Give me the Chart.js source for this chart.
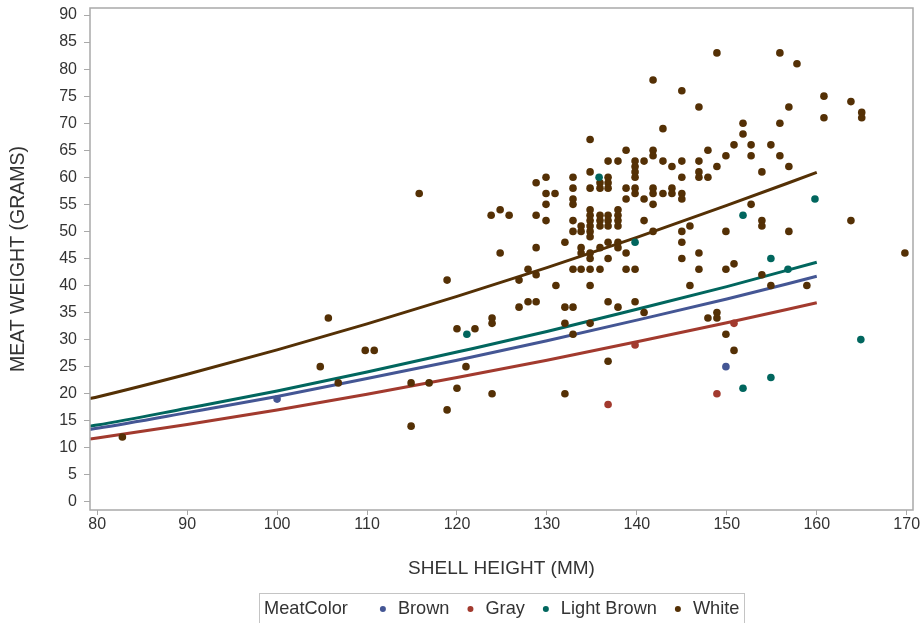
<!DOCTYPE html>
<html>
<head>
<meta charset="utf-8">
<title>Meat weight by shell height</title>
<script src="https://cdn.jsdelivr.net/npm/chart.js@4"></script>
<style>
  html, body { margin: 0; padding: 0; background: #ffffff; }
  #wrap { width: 924px; height: 623px; position: relative; }
</style>
</head>
<body>
<div id="wrap"><canvas id="chart" width="924" height="623"></canvas></div>
<script>
// ---- observations: shell height (mm) and meat weight (g) by meat colour ----
const brownHeight = [100.0, 149.9];
const brownWeight = [19, 25];

const grayHeight = [136.8, 139.8, 148.9, 150.8];
const grayWeight = [18, 29, 20, 33];

const lightBrownHeight = [121.1, 135.8, 139.8, 151.8, 154.9, 156.8, 159.8, 151.8, 154.9, 164.9];
const lightBrownWeight = [31, 60, 48, 53, 45, 43, 56, 21, 23, 30];

const whiteHeight = [
  82.8, 104.8, 105.7, 106.8, 109.8, 110.8, 114.9, 114.9, 115.8, 116.9, 118.9, 118.9, 120.0, 120.0, 121.0, 122.0,
  123.8, 123.9, 123.9, 123.9, 124.8, 124.8, 125.8, 126.9, 126.9, 127.9, 127.9,
  128.8, 128.8, 128.8, 128.8, 128.8, 129.9, 129.9, 129.9, 129.9, 130.9, 131.0, 132.0, 132.0, 132.0, 132.0,
  132.9, 132.9, 132.9, 132.9, 132.9, 132.9, 132.9, 132.9, 132.9,
  133.8, 133.8, 133.8, 133.8, 133.8,
  134.8, 134.8, 134.8, 134.8, 134.8, 134.8, 134.8, 134.8, 134.8, 134.8, 134.8, 134.8, 134.8, 134.8,
  135.9, 135.9, 135.9, 135.9, 135.9, 135.9, 135.9,
  136.8, 136.8, 136.8, 136.8, 136.8, 136.8, 136.8, 136.8, 136.8, 136.8, 136.8,
  137.9, 137.9, 137.9, 137.9, 137.9, 137.9, 137.9, 137.9,
  138.8, 138.8, 138.8, 138.8, 138.8,
  139.8, 139.8, 139.8, 139.8, 139.8, 139.8, 139.8, 139.8,
  140.8, 140.8, 140.8, 140.8,
  141.8, 141.8, 141.8, 141.8, 141.8, 141.8, 141.8,
  142.9, 142.9, 142.9,
  143.9, 143.9, 143.9,
  145.0, 145.0, 145.0, 145.0, 145.0, 145.0, 145.0, 145.0,
  145.9, 145.9,
  146.9, 146.9, 146.9, 146.9, 146.9, 146.9,
  147.9, 147.9, 147.9,
  148.9, 148.9, 148.9, 148.9,
  149.9, 149.9, 149.9, 149.9,
  150.8, 150.8, 150.8,
  151.8, 151.8,
  152.7, 152.7, 152.7,
  153.9, 153.9, 153.9, 153.9,
  154.9, 154.9,
  155.9, 155.9, 155.9,
  156.9, 156.9, 156.9,
  157.8, 158.9, 160.8, 160.8, 163.8, 163.8, 165.0, 165.0, 169.8
];
const whiteWeight = [
  12, 25, 34, 22, 28, 28, 14, 22, 57, 22, 41, 17, 21, 32, 25, 32,
  53, 34, 33, 20, 54, 46, 53, 41, 36, 43, 37,
  59, 53, 47, 42, 37, 60, 57, 55, 52, 57, 40, 48, 36, 33, 20,
  60, 58, 56, 55, 52, 50, 43, 36, 31,
  51, 50, 47, 46, 43,
  67, 61, 58, 54, 53, 52, 51, 50, 49, 46, 45, 43, 40, 33,
  59, 58, 53, 52, 51, 47, 43,
  63, 60, 59, 58, 53, 52, 51, 48, 45, 37, 26,
  63, 54, 53, 52, 51, 48, 47, 36,
  65, 58, 56, 46, 43,
  63, 62, 61, 60, 58, 57, 43, 37,
  63, 56, 52, 35,
  78, 65, 64, 58, 57, 55, 50,
  69, 63, 57,
  62, 58, 57,
  76, 63, 60, 57, 56, 50, 48, 45,
  51, 40,
  73, 63, 61, 60, 46, 43,
  65, 60, 34,
  83, 62, 35, 34,
  64, 50, 43, 31,
  66, 44, 28,
  70, 68,
  66, 64, 55,
  61, 52, 51, 42,
  66, 40,
  83, 70, 64,
  73, 62, 50,
  81, 40, 75, 71, 74, 52, 72, 71, 46
];

// ---- fitted curves, read at these shell heights ----
const fitHeight = [79.2, 80, 90, 100, 110, 120, 130, 140, 150, 160];
const fitBrown = [13.4, 13.6, 16.5, 19.5, 22.8, 26.2, 29.8, 33.6, 37.5, 41.7];
const fitGray = [11.6, 11.8, 14.3, 17.0, 19.9, 23.0, 26.2, 29.6, 33.1, 36.8];
const fitLightBrown = [14.0, 14.2, 17.3, 20.5, 24.0, 27.7, 31.5, 35.6, 39.8, 44.3];
const fitWhite = [19.1, 19.4, 23.6, 28.1, 32.9, 38.0, 43.3, 48.9, 54.8, 60.9];

// ---- axes and legend text ----
const xTicks = [80, 90, 100, 110, 120, 130, 140, 150, 160, 170];
const yTicks = [0, 5, 10, 15, 20, 25, 30, 35, 40, 45, 50, 55, 60, 65, 70, 75, 80, 85, 90];
const groupNames = ['Brown', 'Gray', 'Light Brown', 'White'];
const groupColors = ['#445694', '#A23A2E', '#01665E', '#543005'];
const legendTitle = 'MeatColor';
const xTitle = 'SHELL HEIGHT (MM)';
const yTitle = 'MEAT WEIGHT (GRAMS)';

const FONT = '"Liberation Sans", Arial, Helvetica, sans-serif';
const TEXT = '#333333';
const FRAME = '#a9a9a9';

const pairs = (xs, ys) => xs.map((x, i) => ({ x: x, y: ys[i] }));
const groupPoints = [
  pairs(brownHeight, brownWeight),
  pairs(grayHeight, grayWeight),
  pairs(lightBrownHeight, lightBrownWeight),
  pairs(whiteHeight, whiteWeight)
];
const groupFits = [fitBrown, fitGray, fitLightBrown, fitWhite];

const datasets = [];
groupNames.forEach((name, i) => {
  datasets.push({
    label: name,
    data: groupPoints[i],
    showLine: false,
    pointRadius: 3.8,
    pointHoverRadius: 3.8,
    pointBorderWidth: 0,
    pointBackgroundColor: groupColors[i],
    backgroundColor: groupColors[i],
    borderColor: groupColors[i]
  });
});
groupNames.forEach((name, i) => {
  datasets.push({
    label: name + ' fit',
    data: pairs(fitHeight, groupFits[i]),
    showLine: true,
    pointRadius: 0,
    borderWidth: 3,
    borderColor: groupColors[i],
    backgroundColor: groupColors[i],
    cubicInterpolationMode: 'monotone',
    fill: false
  });
});

// frame around the plotting area
const framePlugin = {
  id: 'frame',
  afterDatasetsDraw(chart) {
    const a = chart.chartArea, ctx = chart.ctx;
    ctx.save();
    ctx.strokeStyle = FRAME;
    ctx.lineWidth = 1.5;
    ctx.strokeRect(a.left, a.top, a.right - a.left, a.bottom - a.top);
    ctx.restore();
  }
};

// boxed, single-row legend under the axis title
const legendPlugin = {
  id: 'rowLegend',
  afterDraw(chart) {
    const ctx = chart.ctx;
    ctx.save();
    ctx.font = '18.2px ' + FONT;
    ctx.textBaseline = 'middle';
    const gapTitle = 35, dotToText = 15, textToDot = 21, dotR = 3;
    let w = ctx.measureText(legendTitle).width + gapTitle;
    groupNames.forEach((n, i) => {
      w += dotToText + ctx.measureText(n).width + (i < groupNames.length - 1 ? textToDot : 0);
    });
    const padX = 5;
    const cx = (chart.chartArea.left + chart.chartArea.right) / 2;
    const boxL = Math.round(cx - w / 2 - padX), boxR = Math.round(cx + w / 2 + padX);
    const boxT = 593, boxB = 626, midY = 609;
    ctx.strokeStyle = '#c4c4c4';
    ctx.lineWidth = 1;
    ctx.strokeRect(boxL + 0.5, boxT + 0.5, boxR - boxL, boxB - boxT);
    let x = boxL + padX;
    ctx.fillStyle = TEXT;
    ctx.fillText(legendTitle, x, midY);
    x += ctx.measureText(legendTitle).width + gapTitle;
    groupNames.forEach((n, i) => {
      ctx.fillStyle = groupColors[i];
      ctx.beginPath();
      ctx.arc(x, midY, dotR, 0, Math.PI * 2);
      ctx.fill();
      x += dotToText;
      ctx.fillStyle = TEXT;
      ctx.fillText(n, x, midY);
      x += ctx.measureText(n).width + textToDot;
    });
    ctx.restore();
  }
};

new Chart(document.getElementById('chart'), {
  type: 'scatter',
  data: { datasets: datasets },
  plugins: [framePlugin, legendPlugin],
  options: {
    responsive: false,
    animation: false,
    devicePixelRatio: 1,
    layout: { padding: { top: 8, right: 11, bottom: 41, left: 0 } },
    plugins: { legend: { display: false }, tooltip: { enabled: false } },
    events: [],
    scales: {
      x: {
        type: 'linear',
        min: 79.2,
        max: 170.7,
        afterBuildTicks(scale) { scale.ticks = xTicks.map(v => ({ value: v })); },
        afterFit(scale) { scale.height = 72; scale.paddingLeft = 0; scale.paddingRight = 0; },
        border: { display: false },
        grid: { display: true, drawOnChartArea: false, drawTicks: true, tickLength: 5, color: FRAME, lineWidth: 1 },
        ticks: { color: TEXT, font: { family: FONT, size: 16 }, padding: 0, maxRotation: 0, autoSkip: false },
        title: { display: true, text: xTitle, color: TEXT, font: { family: FONT, size: 19 }, padding: { top: 4, bottom: 2 } }
      },
      y: {
        type: 'linear',
        min: -1.5,
        max: 91.3,
        afterBuildTicks(scale) { scale.ticks = yTicks.map(v => ({ value: v })); },
        afterFit(scale) { scale.width = 90; scale.paddingTop = 0; scale.paddingBottom = 0; },
        border: { display: false },
        grid: { display: true, drawOnChartArea: false, drawTicks: true, tickLength: 6, color: FRAME, lineWidth: 1 },
        ticks: { color: TEXT, font: { family: FONT, size: 16 }, padding: 7, autoSkip: false },
        title: { display: true, text: yTitle, color: TEXT, font: { family: FONT, size: 19.5 }, padding: { top: 7, bottom: 4 } }
      }
    }
  }
});
</script>
</body>
</html>
